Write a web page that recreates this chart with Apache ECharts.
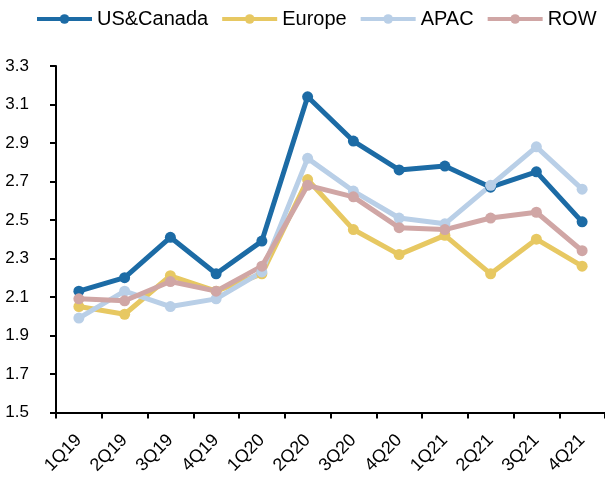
<!DOCTYPE html>
<html>
<head>
<meta charset="utf-8">
<script src="https://cdn.jsdelivr.net/npm/echarts@6/dist/echarts.min.js"></script>
<style>
  html, body { margin: 0; padding: 0; background: #fff; }
  #main { width: 605px; height: 477px; }
</style>
</head>
<body>
<div id="main"></div>
<script>
// 数据
const quarters = ['1Q19', '2Q19', '3Q19', '4Q19', '1Q20', '2Q20', '3Q20', '4Q20', '1Q21', '2Q21', '3Q21', '4Q21'];
const usCanada = [2.13, 2.20, 2.41, 2.22, 2.39, 3.14, 2.91, 2.76, 2.78, 2.67, 2.75, 2.49];
const europe = [2.05, 2.01, 2.21, 2.13, 2.22, 2.71, 2.45, 2.32, 2.42, 2.22, 2.40, 2.26];
const apac = [1.99, 2.13, 2.05, 2.09, 2.23, 2.82, 2.65, 2.51, 2.48, 2.68, 2.88, 2.66];
const row = [2.09, 2.08, 2.18, 2.13, 2.26, 2.68, 2.62, 2.46, 2.45, 2.51, 2.54, 2.34];
const yTicks = [1.5, 1.7, 1.9, 2.1, 2.3, 2.5, 2.7, 2.9, 3.1, 3.3];

const seriesList = [
    { name: 'US&Canada', data: usCanada, color: '#1c6ba5' },
    { name: 'Europe', data: europe, color: '#e7c862' },
    { name: 'APAC', data: apac, color: '#b9cfe7' },
    { name: 'ROW', data: row, color: '#d0a6a5' }
];

const chart = echarts.init(document.getElementById('main'), null, { renderer: 'canvas' });

const option = {
    animation: false,
    textStyle: { fontFamily: '"Liberation Sans", Arial, sans-serif' },
    legend: {
        left: 30,
        top: 4,
        itemWidth: 55,
        itemHeight: 12,
        itemGap: 12,
        lineStyle: { width: 4 },
        textStyle: { fontSize: 20, color: '#000' },
        data: seriesList.map(s => s.name)
    },
    grid: {
        left: 56,
        top: 66,
        width: 552,
        height: 347.5,
        containLabel: false
    },
    xAxis: {
        type: 'category',
        data: quarters,
        boundaryGap: true,
        axisLine: { lineStyle: { color: '#000', width: 2 } },
        axisTick: { show: true, length: 6, lineStyle: { color: '#000', width: 2 } },
        axisLabel: { rotate: 45, fontSize: 18, color: '#000', margin: 25, interval: 0 }
    },
    yAxis: {
        type: 'value',
        min: yTicks[0],
        max: yTicks[yTicks.length - 1],
        interval: 0.2,
        splitLine: { show: false },
        axisLine: { show: true, lineStyle: { color: '#000', width: 2 } },
        axisTick: { show: true, length: 6, lineStyle: { color: '#000', width: 2 } },
        axisLabel: {
            fontSize: 17,
            color: '#000',
            margin: 27,
            formatter: v => v.toFixed(1)
        }
    },
    series: seriesList.map(s => ({
        name: s.name,
        type: 'line',
        data: s.data,
        color: s.color,
        symbol: 'circle',
        symbolSize: 11,
        lineStyle: { width: 5, color: s.color },
        itemStyle: { color: s.color }
    }))
};

chart.setOption(option);
window.addEventListener('resize', chart.resize);
</script>
</body>
</html>
